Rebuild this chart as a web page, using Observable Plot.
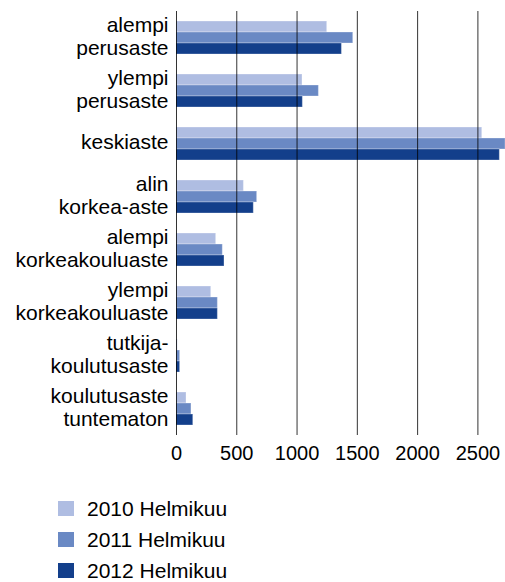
<!DOCTYPE html>
<html><head><meta charset="utf-8">
<script src="https://cdn.jsdelivr.net/npm/d3@7"></script>
<script src="https://cdn.jsdelivr.net/npm/@observablehq/plot@0.6"></script>
<style>
body{margin:0;background:#fff;font-family:"Liberation Sans",Arial,sans-serif;}
#chart{position:relative;width:505px;height:582px;overflow:hidden}
#legend{position:absolute;left:58px;top:493px}
.item{display:flex;align-items:center;height:31px;font-size:21px;color:#000}
.sw{width:16px;height:15px;margin-right:13px;flex:none}
</style></head><body><div id="chart"></div>
<script>
const categories = ["alempi\nperusaste","ylempi\nperusaste","keskiaste","alin\nkorkea-aste","alempi\nkorkeakouluaste","ylempi\nkorkeakouluaste","tutkija-\nkoulutusaste","koulutusaste\ntuntematon"];
const years = ["2010 Helmikuu","2011 Helmikuu","2012 Helmikuu"];
const v2010 = [1250,1045,2536,559,329,288,10,83];
const v2011 = [1466,1181,2729,669,384,343,30,124];
const v2012 = [1372,1048,2682,641,398,343,30,139];
const colors = ["#afbde2","#6a89c4","#133f8b"];
const xTicks = [0,500,1000,1500,2000,2500];

const series = [v2010, v2011, v2012];
const rows = [];
categories.forEach((c,i)=>years.forEach((y,j)=>rows.push({cat:c, year:y, value:series[j][i]})));

const plot = Plot.plot({
  width:505, height:470, marginTop:8, marginBottom:32, marginLeft:176, marginRight:0,
  style:{fontFamily:"Liberation Sans, Arial, sans-serif", color:"#000", background:"#fff"},
  x:{domain:[0,2729], axis:null, label:null},
  fy:{domain:categories, padding:0, axis:null, label:null},
  y:{domain:years, paddingInner:0, paddingOuter:0.8, axis:null, label:null},
  color:{domain:years, range:colors},
  marks:[
    Plot.barX(rows,{x:"value", y:"year", fy:"cat", fill:"year", stroke:"#fff", strokeOpacity:0.3, strokeWidth:1}),
    Plot.ruleX(xTicks,{stroke:"#000", strokeOpacity:0.8}),
    Plot.text(categories,{fy:d=>d, text:d=>d, frameAnchor:"left", dx:-8, dy:-2, textAnchor:"end", fontSize:21, lineHeight:1.08, fill:"#000"}),
    Plot.axisX({ticks:xTicks, tickSize:0, tickPadding:10, fontSize:20, tickFormat:d=>String(d), fill:"#000", label:null})
  ]
});
const chart = document.getElementById("chart");
chart.appendChild(plot);
const legend = document.createElement("div");
legend.id = "legend";
years.forEach((y,j)=>{
  const it = document.createElement("div"); it.className="item";
  const sw = document.createElement("span"); sw.className="sw"; sw.style.background=colors[j];
  const t = document.createElement("span"); t.textContent=y;
  it.appendChild(sw); it.appendChild(t); legend.appendChild(it);
});
chart.appendChild(legend);
</script></body></html>
